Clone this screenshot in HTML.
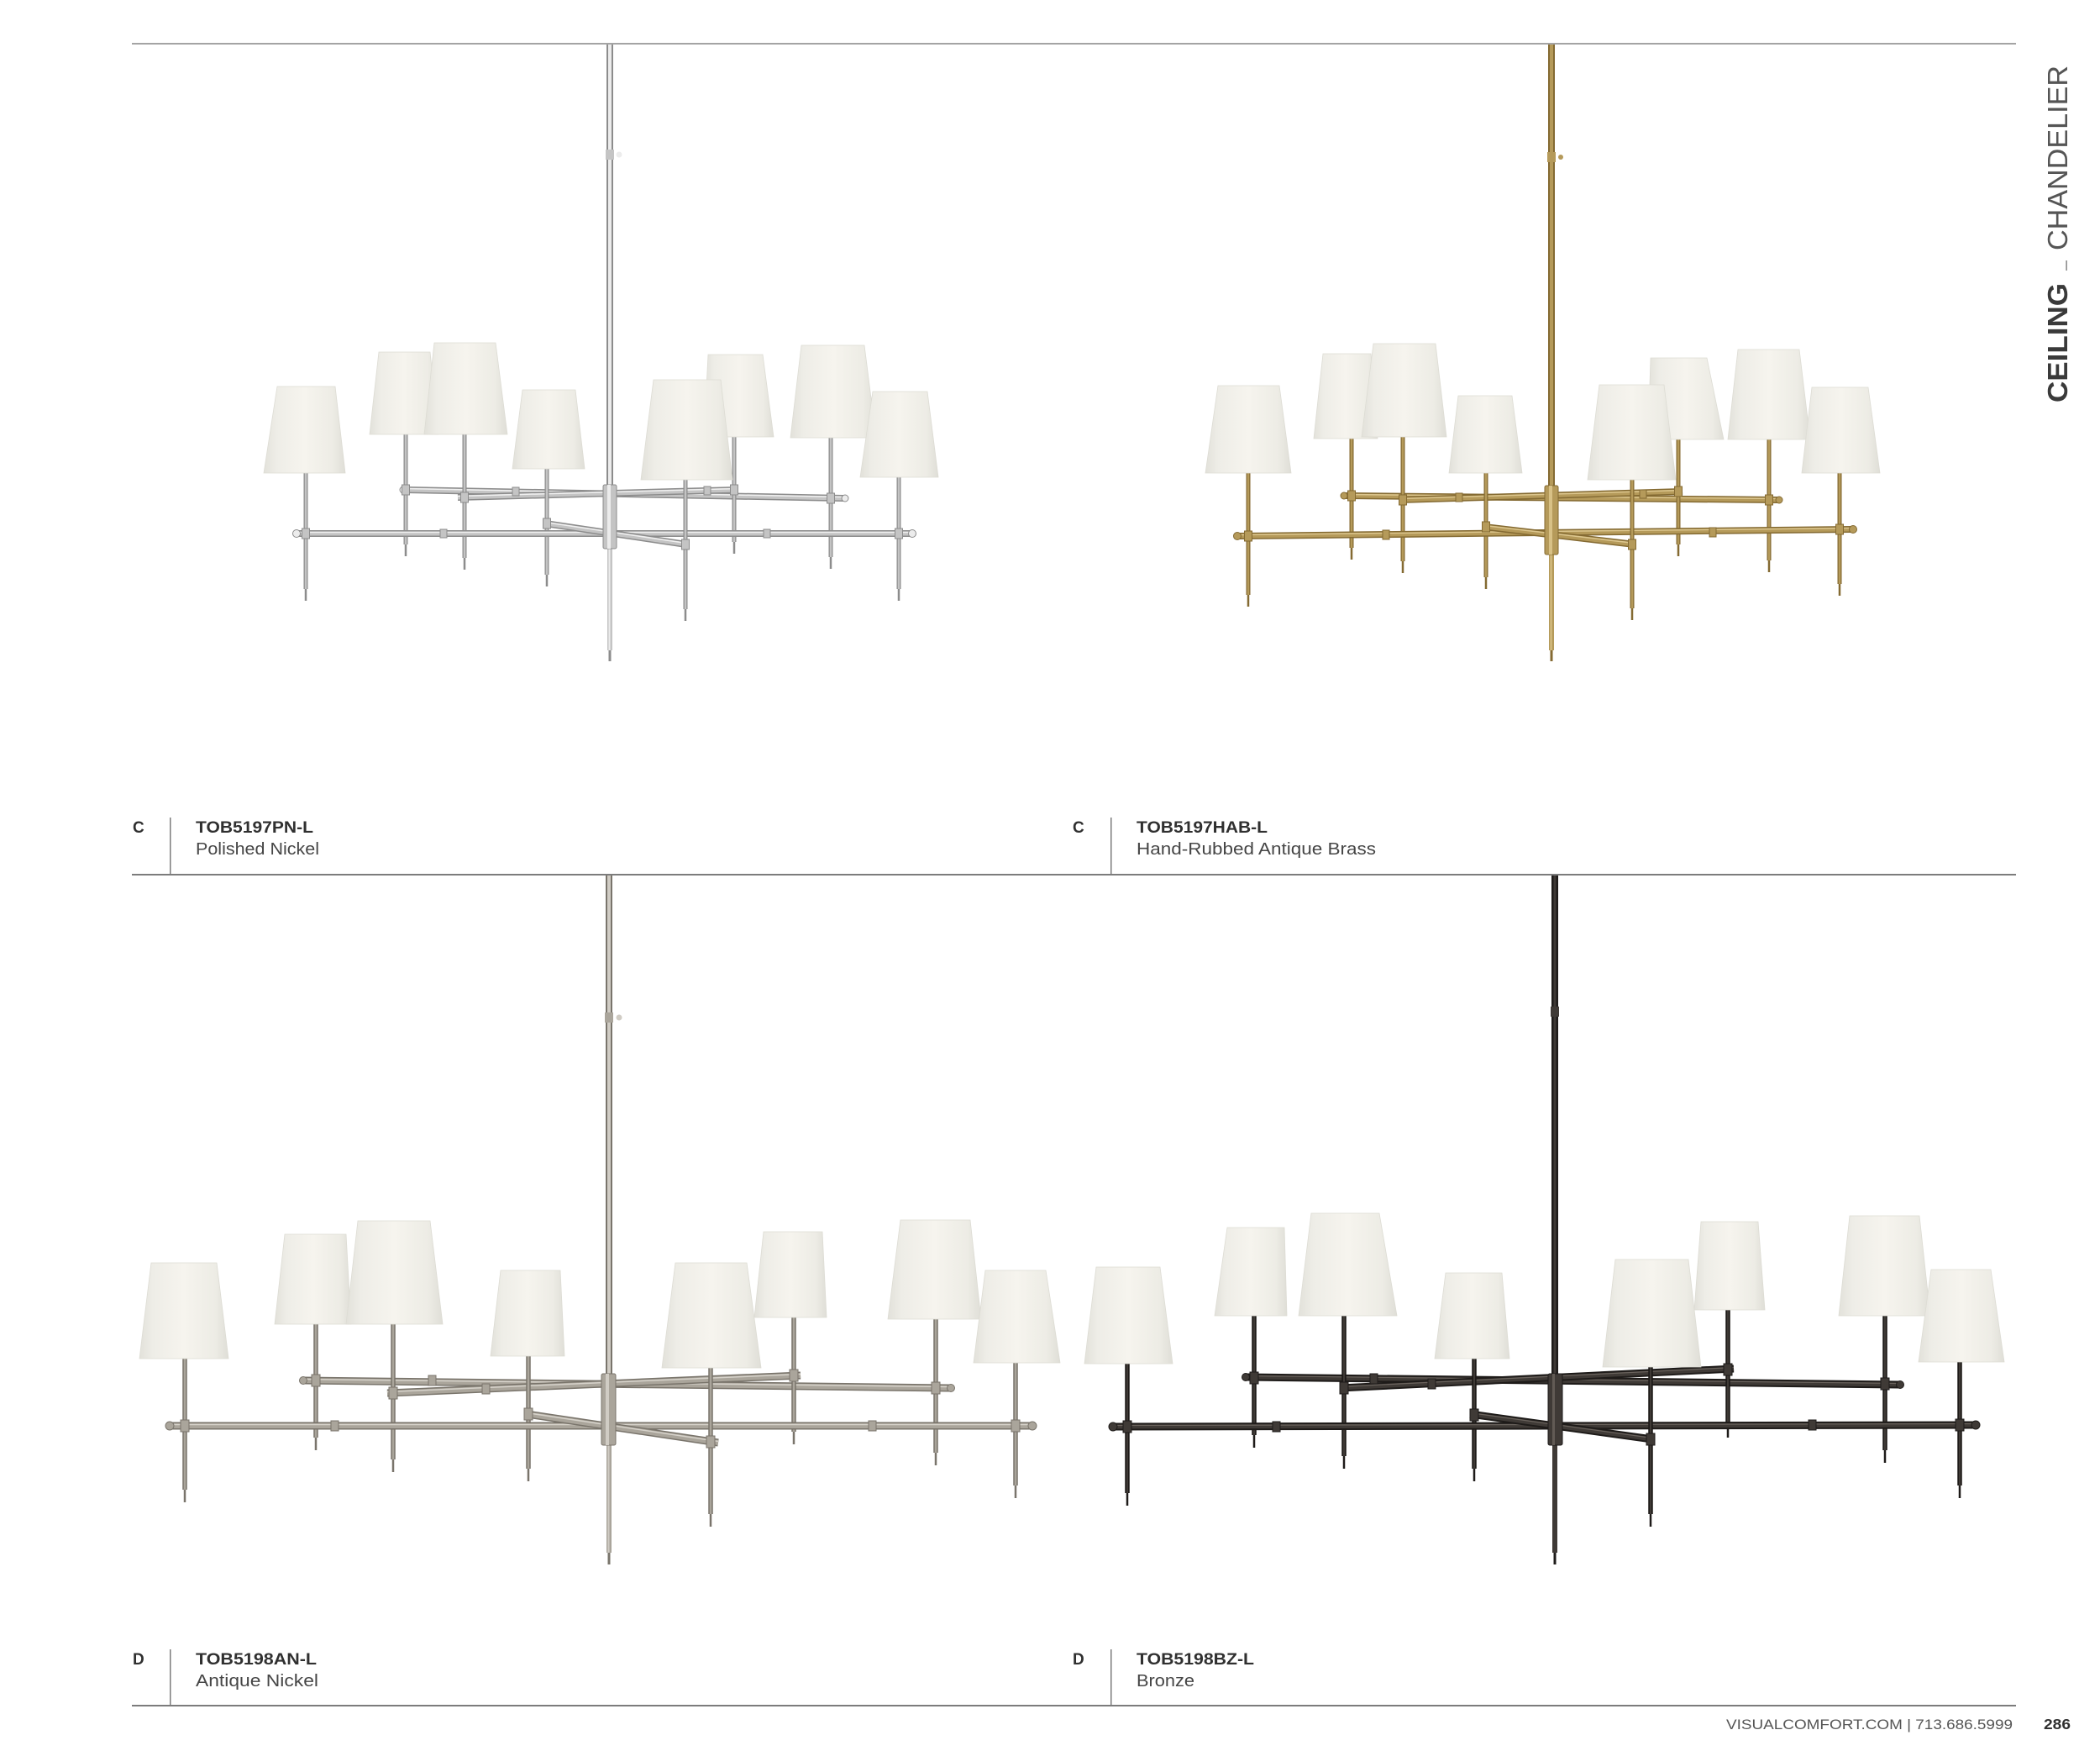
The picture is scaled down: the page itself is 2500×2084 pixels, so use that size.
<!DOCTYPE html>
<html>
<head>
<meta charset="utf-8">
<style>
html,body{margin:0;padding:0;background:#fff;}
body{width:2500px;height:2084px;overflow:hidden;position:relative;}
svg{position:absolute;left:0;top:0;}
text{font-family:"Liberation Sans",Arial,sans-serif;}
.b{font-weight:bold;fill:#303030;}
.r{fill:#464646;}
.pn .d{stroke:#8c8c8c}.pn .m{stroke:#c4c4c4}.pn .l{stroke:#f0f0f0}
.pn .df{fill:#8c8c8c}.pn .mf{fill:#c4c4c4}.pn .lf{fill:#ececec}
.hab .d{stroke:#846a32}.hab .m{stroke:#b59a5a}.hab .l{stroke:#dcc68e}
.hab .df{fill:#846a32}.hab .mf{fill:#b59a5a}.hab .lf{fill:#d8c186}
.an .d{stroke:#79746b}.an .m{stroke:#aaa59b}.an .l{stroke:#d6d2ca}
.an .df{fill:#79746b}.an .mf{fill:#aaa59b}.an .lf{fill:#d0ccc4}
.bz .d{stroke:#1e1b19}.bz .m{stroke:#3f3a36}.bz .l{stroke:#6a635d}
.bz .df{fill:#1e1b19}.bz .mf{fill:#3f3a36}.bz .lf{fill:#625b55}
.c{stroke-width:1}
.sh{fill:url(#shg);stroke:#dddcd4;stroke-width:0.8}
</style>
</head>
<body>
<svg width="2500" height="2084" viewBox="0 0 2500 2084" xmlns="http://www.w3.org/2000/svg">
<defs>
<linearGradient id="shg" x1="0" y1="0" x2="1" y2="0">
<stop offset="0" stop-color="#e2e1da"/>
<stop offset="0.15" stop-color="#eeede7"/>
<stop offset="0.5" stop-color="#f6f4ee"/>
<stop offset="0.85" stop-color="#edece5"/>
<stop offset="1" stop-color="#dfded7"/>
</linearGradient>
</defs>

<!-- rules -->
<rect x="157" y="51" width="2243" height="2" fill="#a4a4a4"/>
<rect x="157" y="1040" width="2243" height="2" fill="#7c7c7c"/>
<rect x="157" y="2029" width="2243" height="2" fill="#7c7c7c"/>
<rect x="202" y="973" width="1.5" height="68" fill="#7c7c7c"/>
<rect x="1322" y="973" width="1.5" height="68" fill="#7c7c7c"/>
<rect x="202" y="1963" width="1.5" height="67" fill="#7c7c7c"/>
<rect x="1322" y="1963" width="1.5" height="67" fill="#7c7c7c"/>

<!-- labels row 1 -->
<text x="158" y="991" class="b" font-size="19">C</text>
<text x="233" y="991" class="b" font-size="19.5" textLength="140" lengthAdjust="spacingAndGlyphs">TOB5197PN-L</text>
<text x="233" y="1017" class="r" font-size="20" textLength="147" lengthAdjust="spacingAndGlyphs">Polished Nickel</text>
<text x="1277" y="991" class="b" font-size="19">C</text>
<text x="1353" y="991" class="b" font-size="19.5" textLength="156" lengthAdjust="spacingAndGlyphs">TOB5197HAB-L</text>
<text x="1353" y="1017" class="r" font-size="20" textLength="285" lengthAdjust="spacingAndGlyphs">Hand-Rubbed Antique Brass</text>
<!-- labels row 2 -->
<text x="158" y="1981" class="b" font-size="19">D</text>
<text x="233" y="1981" class="b" font-size="19.5" textLength="144" lengthAdjust="spacingAndGlyphs">TOB5198AN-L</text>
<text x="233" y="2007" class="r" font-size="20" textLength="146" lengthAdjust="spacingAndGlyphs">Antique Nickel</text>
<text x="1277" y="1981" class="b" font-size="19">D</text>
<text x="1353" y="1981" class="b" font-size="19.5" textLength="140" lengthAdjust="spacingAndGlyphs">TOB5198BZ-L</text>
<text x="1353" y="2007" class="r" font-size="20" textLength="69" lengthAdjust="spacingAndGlyphs">Bronze</text>

<!-- footer -->
<text x="2055" y="2058" font-size="17" fill="#555" textLength="341" lengthAdjust="spacingAndGlyphs">VISUALCOMFORT.COM  |  713.686.5999</text>
<text x="2433" y="2058" font-size="17.5" class="b" textLength="32" lengthAdjust="spacingAndGlyphs">286</text>

<!-- side tab -->
<text transform="translate(2461,479) rotate(-90)" font-size="33" font-weight="bold" fill="#3a3a3a" textLength="142" lengthAdjust="spacingAndGlyphs">CEILING</text>
<rect x="2459.5" y="310" width="1.2" height="12" fill="#666"/>
<text transform="translate(2461,298) rotate(-90)" font-size="33" fill="#555" textLength="220" lengthAdjust="spacingAndGlyphs">CHANDELIER</text>

<!-- ================= PN ================= -->
<g class="pn">
<rect x="722" y="53" width="8" height="525" class="df"/>
<rect x="724" y="53" width="4" height="525" class="lf"/>
<circle cx="737" cy="184" r="3.5" class="lf"/>
<rect x="721" y="178" width="10" height="12" class="mf"/>
<rect x="723" y="653" width="6" height="121" class="mf"/>
<rect x="724.5" y="653" width="2" height="121" class="lf"/>
<rect x="724.5" y="774" width="3" height="13" class="df"/>
<!-- bars upper -->
<line x1="482" y1="583" x2="1004" y2="593" class="d" stroke-width="8"/>
<line x1="482" y1="583" x2="1004" y2="593" class="m" stroke-width="5"/>
<line x1="482" y1="581.5" x2="1004" y2="591.5" class="l" stroke-width="1.5"/>
<line x1="545" y1="592" x2="878" y2="583" class="d" stroke-width="8"/>
<line x1="545" y1="592" x2="878" y2="583" class="m" stroke-width="5"/>
<line x1="545" y1="590.5" x2="878" y2="581.5" class="l" stroke-width="1.5"/>
<!-- stems -->
<line x1="364" y1="563" x2="364" y2="701" class="d" stroke-width="5"/><line x1="364" y1="563" x2="364" y2="701" class="m" stroke-width="2.5"/><line x1="364" y1="701" x2="364" y2="715" class="d" stroke-width="2.5"/>
<line x1="483" y1="517" x2="483" y2="648" class="d" stroke-width="5"/><line x1="483" y1="517" x2="483" y2="648" class="m" stroke-width="2.5"/><line x1="483" y1="648" x2="483" y2="662" class="d" stroke-width="2.5"/>
<line x1="553" y1="517" x2="553" y2="664" class="d" stroke-width="5"/><line x1="553" y1="517" x2="553" y2="664" class="m" stroke-width="2.5"/><line x1="553" y1="664" x2="553" y2="678" class="d" stroke-width="2.5"/>
<line x1="651" y1="558" x2="651" y2="684" class="d" stroke-width="5"/><line x1="651" y1="558" x2="651" y2="684" class="m" stroke-width="2.5"/><line x1="651" y1="684" x2="651" y2="698" class="d" stroke-width="2.5"/>
<line x1="874" y1="520" x2="874" y2="645" class="d" stroke-width="5"/><line x1="874" y1="520" x2="874" y2="645" class="m" stroke-width="2.5"/><line x1="874" y1="645" x2="874" y2="659" class="d" stroke-width="2.5"/>
<line x1="989" y1="521" x2="989" y2="663" class="d" stroke-width="5"/><line x1="989" y1="521" x2="989" y2="663" class="m" stroke-width="2.5"/><line x1="989" y1="663" x2="989" y2="677" class="d" stroke-width="2.5"/>
<line x1="1070" y1="568" x2="1070" y2="701" class="d" stroke-width="5"/><line x1="1070" y1="568" x2="1070" y2="701" class="m" stroke-width="2.5"/><line x1="1070" y1="701" x2="1070" y2="715" class="d" stroke-width="2.5"/>
<!-- bars lower -->
<line x1="355" y1="635" x2="1084" y2="635" class="d" stroke-width="8"/>
<line x1="355" y1="635" x2="1084" y2="635" class="m" stroke-width="5"/>
<line x1="355" y1="633.5" x2="1084" y2="633.5" class="l" stroke-width="1.5"/>
<line x1="649" y1="623" x2="817" y2="648" class="d" stroke-width="8"/>
<line x1="649" y1="623" x2="817" y2="648" class="m" stroke-width="5"/>
<line x1="649" y1="621.5" x2="817" y2="646.5" class="l" stroke-width="1.5"/>
<line x1="816" y1="571" x2="816" y2="725" class="d" stroke-width="5"/><line x1="816" y1="571" x2="816" y2="725" class="m" stroke-width="2.5"/><line x1="816" y1="725" x2="816" y2="739" class="d" stroke-width="2.5"/>
<!-- caps/collars -->
<circle cx="353" cy="635" r="4.5" class="lf d c"/><circle cx="1086" cy="635" r="4.5" class="lf d c"/>
<circle cx="480" cy="583" r="4" class="lf d c"/><circle cx="1006" cy="593" r="4" class="lf d c"/>
<rect x="359.5" y="629" width="9" height="12" class="mf d c"/>
<rect x="478.5" y="577" width="9" height="12" class="mf d c"/>
<rect x="548.5" y="586" width="9" height="12" class="mf d c"/>
<rect x="646.5" y="617" width="9" height="12" class="mf d c"/>
<rect x="811.5" y="642" width="9" height="12" class="mf d c"/>
<rect x="869.5" y="577" width="9" height="12" class="mf d c"/>
<rect x="984.5" y="587" width="9" height="12" class="mf d c"/>
<rect x="1065.5" y="629" width="9" height="12" class="mf d c"/>
<rect x="524" y="630" width="8" height="10" class="mf d c"/><rect x="909" y="630" width="8" height="10" class="mf d c"/>
<rect x="610" y="580" width="8" height="10" class="mf d c"/><rect x="838" y="579" width="8" height="10" class="mf d c"/>
<rect x="718" y="577" width="16" height="76" rx="2" class="mf d c"/>
<rect x="723" y="577" width="4" height="76" class="lf"/>
<!-- shades -->
<polygon class="sh" points="440,517 451,419 512,419 522,517"/>
<polygon class="sh" points="838,520 843,422 908,422 921,520"/>
<polygon class="sh" points="505,517 517,408 590,408 604,517"/>
<polygon class="sh" points="941,521 954,411 1029,411 1043,521"/>
<polygon class="sh" points="610,558 622,464 685,464 696,558"/>
<polygon class="sh" points="314,563 330,460 399,460 411,563"/>
<polygon class="sh" points="763,571 778,452 858,452 872,571"/>
<polygon class="sh" points="1024,568 1039,466 1104,466 1117,568"/>
</g>

<!-- ================= HAB ================= -->
<g class="hab">
<rect x="1843" y="53" width="8" height="525" class="df"/>
<rect x="1845" y="53" width="4" height="525" class="mf"/>
<circle cx="1858" cy="187" r="3" class="mf"/>
<rect x="1842" y="181" width="10" height="12" class="mf"/>
<rect x="1844" y="660" width="6" height="114" class="mf"/>
<rect x="1845.5" y="660" width="2" height="114" class="lf"/>
<rect x="1845.5" y="774" width="3" height="13" class="df"/>
<line x1="1602" y1="590" x2="2116" y2="595" class="d" stroke-width="8"/>
<line x1="1602" y1="590" x2="2116" y2="595" class="m" stroke-width="5"/>
<line x1="1602" y1="588.5" x2="2116" y2="593.5" class="l" stroke-width="1.5"/>
<line x1="1665" y1="595" x2="2003" y2="585" class="d" stroke-width="8"/>
<line x1="1665" y1="595" x2="2003" y2="585" class="m" stroke-width="5"/>
<line x1="1665" y1="593.5" x2="2003" y2="583.5" class="l" stroke-width="1.5"/>
<line x1="1486" y1="563" x2="1486" y2="708" class="d" stroke-width="5"/><line x1="1486" y1="563" x2="1486" y2="708" class="m" stroke-width="2.5"/><line x1="1486" y1="708" x2="1486" y2="722" class="d" stroke-width="2.5"/>
<line x1="1609" y1="522" x2="1609" y2="652" class="d" stroke-width="5"/><line x1="1609" y1="522" x2="1609" y2="652" class="m" stroke-width="2.5"/><line x1="1609" y1="652" x2="1609" y2="666" class="d" stroke-width="2.5"/>
<line x1="1670" y1="520" x2="1670" y2="668" class="d" stroke-width="5"/><line x1="1670" y1="520" x2="1670" y2="668" class="m" stroke-width="2.5"/><line x1="1670" y1="668" x2="1670" y2="682" class="d" stroke-width="2.5"/>
<line x1="1769" y1="563" x2="1769" y2="687" class="d" stroke-width="5"/><line x1="1769" y1="563" x2="1769" y2="687" class="m" stroke-width="2.5"/><line x1="1769" y1="687" x2="1769" y2="701" class="d" stroke-width="2.5"/>
<line x1="1998" y1="523" x2="1998" y2="648" class="d" stroke-width="5"/><line x1="1998" y1="523" x2="1998" y2="648" class="m" stroke-width="2.5"/><line x1="1998" y1="648" x2="1998" y2="662" class="d" stroke-width="2.5"/>
<line x1="2106" y1="523" x2="2106" y2="667" class="d" stroke-width="5"/><line x1="2106" y1="523" x2="2106" y2="667" class="m" stroke-width="2.5"/><line x1="2106" y1="667" x2="2106" y2="681" class="d" stroke-width="2.5"/>
<line x1="2190" y1="563" x2="2190" y2="695" class="d" stroke-width="5"/><line x1="2190" y1="563" x2="2190" y2="695" class="m" stroke-width="2.5"/><line x1="2190" y1="695" x2="2190" y2="709" class="d" stroke-width="2.5"/>
<line x1="1475" y1="638" x2="2204" y2="630" class="d" stroke-width="8"/>
<line x1="1475" y1="638" x2="2204" y2="630" class="m" stroke-width="5"/>
<line x1="1475" y1="636.5" x2="2204" y2="628.5" class="l" stroke-width="1.5"/>
<line x1="1767" y1="627" x2="1946" y2="648" class="d" stroke-width="8"/>
<line x1="1767" y1="627" x2="1946" y2="648" class="m" stroke-width="5"/>
<line x1="1767" y1="625.5" x2="1946" y2="646.5" class="l" stroke-width="1.5"/>
<line x1="1943" y1="571" x2="1943" y2="724" class="d" stroke-width="5"/><line x1="1943" y1="571" x2="1943" y2="724" class="m" stroke-width="2.5"/><line x1="1943" y1="724" x2="1943" y2="738" class="d" stroke-width="2.5"/>
<circle cx="1473" cy="638" r="4.5" class="mf d c"/><circle cx="2206" cy="630" r="4.5" class="mf d c"/>
<circle cx="1600" cy="590" r="4" class="mf d c"/><circle cx="2118" cy="595" r="4" class="mf d c"/>
<rect x="1481.5" y="632" width="9" height="12" class="mf d c"/>
<rect x="1604.5" y="584" width="9" height="12" class="mf d c"/>
<rect x="1665.5" y="589" width="9" height="12" class="mf d c"/>
<rect x="1764.5" y="621" width="9" height="12" class="mf d c"/>
<rect x="1938.5" y="642" width="9" height="12" class="mf d c"/>
<rect x="1993.5" y="579" width="9" height="12" class="mf d c"/>
<rect x="2101.5" y="589" width="9" height="12" class="mf d c"/>
<rect x="2185.5" y="624" width="9" height="12" class="mf d c"/>
<rect x="1646" y="631" width="8" height="11" class="mf d c"/><rect x="2035" y="628" width="8" height="11" class="mf d c"/>
<rect x="1733" y="587" width="8" height="10" class="mf d c"/><rect x="1952" y="583" width="8" height="10" class="mf d c"/>
<rect x="1839" y="578" width="16" height="82" rx="2" class="mf d c"/>
<rect x="1844" y="578" width="4" height="82" class="lf"/>
<polygon class="sh" points="1564,522 1575,421 1632,421 1640,522"/>
<polygon class="sh" points="1962,523 1965,426 2032,426 2052,523"/>
<polygon class="sh" points="1621,520 1635,409 1709,409 1722,520"/>
<polygon class="sh" points="2057,523 2069,416 2142,416 2155,523"/>
<polygon class="sh" points="1725,563 1736,471 1800,471 1812,563"/>
<polygon class="sh" points="1435,563 1450,459 1523,459 1537,563"/>
<polygon class="sh" points="1890,571 1904,458 1981,458 1995,571"/>
<polygon class="sh" points="2145,563 2157,461 2224,461 2238,563"/>
</g>

<!-- ================= AN ================= -->
<g class="an">
<rect x="721" y="1042" width="8" height="594" class="df"/>
<rect x="723" y="1042" width="4" height="594" class="lf"/>
<circle cx="737" cy="1211" r="3.5" class="lf"/>
<rect x="720" y="1205" width="10" height="12" class="mf"/>
<rect x="722" y="1720" width="6" height="128" class="mf"/>
<rect x="723.5" y="1720" width="2" height="128" class="lf"/>
<rect x="723.5" y="1848" width="3" height="14" class="df"/>
<line x1="363" y1="1643" x2="1130" y2="1652" class="d" stroke-width="9"/>
<line x1="363" y1="1643" x2="1130" y2="1652" class="m" stroke-width="6"/>
<line x1="363" y1="1641.5" x2="1130" y2="1650.5" class="l" stroke-width="1.5"/>
<line x1="461" y1="1658" x2="953" y2="1637" class="d" stroke-width="9"/>
<line x1="461" y1="1658" x2="953" y2="1637" class="m" stroke-width="6"/>
<line x1="461" y1="1656.5" x2="953" y2="1635.5" class="l" stroke-width="1.5"/>
<line x1="220" y1="1617" x2="220" y2="1773" class="d" stroke-width="5.5"/><line x1="220" y1="1617" x2="220" y2="1773" class="m" stroke-width="2.5"/><line x1="220" y1="1773" x2="220" y2="1788" class="d" stroke-width="2.5"/>
<line x1="376" y1="1576" x2="376" y2="1711" class="d" stroke-width="5.5"/><line x1="376" y1="1576" x2="376" y2="1711" class="m" stroke-width="2.5"/><line x1="376" y1="1711" x2="376" y2="1726" class="d" stroke-width="2.5"/>
<line x1="468" y1="1576" x2="468" y2="1737" class="d" stroke-width="5.5"/><line x1="468" y1="1576" x2="468" y2="1737" class="m" stroke-width="2.5"/><line x1="468" y1="1737" x2="468" y2="1752" class="d" stroke-width="2.5"/>
<line x1="629" y1="1614" x2="629" y2="1748" class="d" stroke-width="5.5"/><line x1="629" y1="1614" x2="629" y2="1748" class="m" stroke-width="2.5"/><line x1="629" y1="1748" x2="629" y2="1763" class="d" stroke-width="2.5"/>
<line x1="945" y1="1568" x2="945" y2="1704" class="d" stroke-width="5.5"/><line x1="945" y1="1568" x2="945" y2="1704" class="m" stroke-width="2.5"/><line x1="945" y1="1704" x2="945" y2="1719" class="d" stroke-width="2.5"/>
<line x1="1114" y1="1570" x2="1114" y2="1729" class="d" stroke-width="5.5"/><line x1="1114" y1="1570" x2="1114" y2="1729" class="m" stroke-width="2.5"/><line x1="1114" y1="1729" x2="1114" y2="1744" class="d" stroke-width="2.5"/>
<line x1="1209" y1="1622" x2="1209" y2="1768" class="d" stroke-width="5.5"/><line x1="1209" y1="1622" x2="1209" y2="1768" class="m" stroke-width="2.5"/><line x1="1209" y1="1768" x2="1209" y2="1783" class="d" stroke-width="2.5"/>
<line x1="204" y1="1697" x2="1227" y2="1697" class="d" stroke-width="9"/>
<line x1="204" y1="1697" x2="1227" y2="1697" class="m" stroke-width="6"/>
<line x1="204" y1="1695.5" x2="1227" y2="1695.5" class="l" stroke-width="1.5"/>
<line x1="627" y1="1683" x2="855" y2="1717" class="d" stroke-width="9"/>
<line x1="627" y1="1683" x2="855" y2="1717" class="m" stroke-width="6"/>
<line x1="627" y1="1681.5" x2="855" y2="1715.5" class="l" stroke-width="1.5"/>
<line x1="846" y1="1628" x2="846" y2="1802" class="d" stroke-width="5.5"/><line x1="846" y1="1628" x2="846" y2="1802" class="m" stroke-width="2.5"/><line x1="846" y1="1802" x2="846" y2="1817" class="d" stroke-width="2.5"/>
<circle cx="202" cy="1697" r="5" class="mf d c"/><circle cx="1229" cy="1697" r="5" class="mf d c"/>
<circle cx="361" cy="1643" r="4.5" class="mf d c"/><circle cx="1132" cy="1652" r="4.5" class="mf d c"/>
<rect x="215" y="1690" width="10" height="14" class="mf d c"/>
<rect x="371" y="1636" width="10" height="14" class="mf d c"/>
<rect x="463" y="1651" width="10" height="14" class="mf d c"/>
<rect x="624" y="1676" width="10" height="14" class="mf d c"/>
<rect x="841" y="1709" width="10" height="14" class="mf d c"/>
<rect x="940" y="1630" width="10" height="14" class="mf d c"/>
<rect x="1109" y="1645" width="10" height="14" class="mf d c"/>
<rect x="1204" y="1690" width="10" height="14" class="mf d c"/>
<rect x="394" y="1691" width="9" height="12" class="mf d c"/><rect x="1034" y="1691" width="9" height="12" class="mf d c"/>
<rect x="510" y="1637" width="9" height="12" class="mf d c"/><rect x="574" y="1647" width="9" height="12" class="mf d c"/>
<rect x="716" y="1635" width="17" height="85" rx="2" class="mf d c"/>
<rect x="721" y="1635" width="4" height="85" class="lf"/>
<polygon class="sh" points="327,1576 339,1469 412,1469 418,1576"/>
<polygon class="sh" points="898,1568 909,1466 979,1466 984,1568"/>
<polygon class="sh" points="412,1576 426,1453 512,1453 527,1576"/>
<polygon class="sh" points="1057,1570 1072,1452 1155,1452 1168,1570"/>
<polygon class="sh" points="584,1614 596,1512 667,1512 672,1614"/>
<polygon class="sh" points="166,1617 180,1503 258,1503 272,1617"/>
<polygon class="sh" points="788,1628 804,1503 889,1503 906,1628"/>
<polygon class="sh" points="1159,1622 1173,1512 1245,1512 1262,1622"/>
</g>

<!-- ================= BZ ================= -->
<g class="bz">
<rect x="1847" y="1042" width="8" height="594" class="df"/>
<rect x="1849.5" y="1042" width="3" height="594" class="mf"/>
<rect x="1846" y="1198" width="10" height="12" class="mf"/>
<rect x="1848" y="1720" width="6" height="128" class="mf"/>
<rect x="1849.5" y="1848" width="3" height="14" class="df"/>
<line x1="1485" y1="1639" x2="2260" y2="1648" class="d" stroke-width="9"/>
<line x1="1485" y1="1639" x2="2260" y2="1648" class="m" stroke-width="5"/>
<line x1="1485" y1="1637.5" x2="2260" y2="1646.5" class="l" stroke-width="1.2"/>
<line x1="1595" y1="1652" x2="2064" y2="1629" class="d" stroke-width="9"/>
<line x1="1595" y1="1652" x2="2064" y2="1629" class="m" stroke-width="5"/>
<line x1="1595" y1="1650.5" x2="2064" y2="1627.5" class="l" stroke-width="1.2"/>
<line x1="1342" y1="1623" x2="1342" y2="1777" class="d" stroke-width="5.5"/><line x1="1342" y1="1623" x2="1342" y2="1777" class="m" stroke-width="2"/><line x1="1342" y1="1777" x2="1342" y2="1792" class="d" stroke-width="2.5"/>
<line x1="1493" y1="1566" x2="1493" y2="1708" class="d" stroke-width="5.5"/><line x1="1493" y1="1566" x2="1493" y2="1708" class="m" stroke-width="2"/><line x1="1493" y1="1708" x2="1493" y2="1723" class="d" stroke-width="2.5"/>
<line x1="1600" y1="1566" x2="1600" y2="1733" class="d" stroke-width="5.5"/><line x1="1600" y1="1566" x2="1600" y2="1733" class="m" stroke-width="2"/><line x1="1600" y1="1733" x2="1600" y2="1748" class="d" stroke-width="2.5"/>
<line x1="1755" y1="1617" x2="1755" y2="1748" class="d" stroke-width="5.5"/><line x1="1755" y1="1617" x2="1755" y2="1748" class="m" stroke-width="2"/><line x1="1755" y1="1748" x2="1755" y2="1763" class="d" stroke-width="2.5"/>
<line x1="2057" y1="1559" x2="2057" y2="1696" class="d" stroke-width="5.5"/><line x1="2057" y1="1559" x2="2057" y2="1696" class="m" stroke-width="2"/><line x1="2057" y1="1696" x2="2057" y2="1711" class="d" stroke-width="2.5"/>
<line x1="2244" y1="1566" x2="2244" y2="1726" class="d" stroke-width="5.5"/><line x1="2244" y1="1566" x2="2244" y2="1726" class="m" stroke-width="2"/><line x1="2244" y1="1726" x2="2244" y2="1741" class="d" stroke-width="2.5"/>
<line x1="2333" y1="1621" x2="2333" y2="1768" class="d" stroke-width="5.5"/><line x1="2333" y1="1621" x2="2333" y2="1768" class="m" stroke-width="2"/><line x1="2333" y1="1768" x2="2333" y2="1783" class="d" stroke-width="2.5"/>
<line x1="1327" y1="1698" x2="2350" y2="1696" class="d" stroke-width="9"/>
<line x1="1327" y1="1698" x2="2350" y2="1696" class="m" stroke-width="5"/>
<line x1="1327" y1="1696.5" x2="2350" y2="1694.5" class="l" stroke-width="1.2"/>
<line x1="1750" y1="1683" x2="1967" y2="1713" class="d" stroke-width="9"/>
<line x1="1750" y1="1683" x2="1967" y2="1713" class="m" stroke-width="5"/>
<line x1="1750" y1="1681.5" x2="1967" y2="1711.5" class="l" stroke-width="1.2"/>
<line x1="1965" y1="1627" x2="1965" y2="1802" class="d" stroke-width="5.5"/><line x1="1965" y1="1627" x2="1965" y2="1802" class="m" stroke-width="2"/><line x1="1965" y1="1802" x2="1965" y2="1817" class="d" stroke-width="2.5"/>
<circle cx="1325" cy="1698" r="5" class="mf d c"/><circle cx="2352" cy="1696" r="5" class="mf d c"/>
<circle cx="1483" cy="1639" r="4.5" class="mf d c"/><circle cx="2262" cy="1648" r="4.5" class="mf d c"/>
<rect x="1337" y="1691" width="10" height="14" class="mf d c"/>
<rect x="1488" y="1633" width="10" height="14" class="mf d c"/>
<rect x="1595" y="1645" width="10" height="14" class="mf d c"/>
<rect x="1750" y="1677" width="10" height="14" class="mf d c"/>
<rect x="1960" y="1706" width="10" height="14" class="mf d c"/>
<rect x="2052" y="1623" width="10" height="14" class="mf d c"/>
<rect x="2239" y="1640" width="10" height="14" class="mf d c"/>
<rect x="2328" y="1689" width="10" height="14" class="mf d c"/>
<rect x="1515" y="1692" width="9" height="12" class="mf d c"/><rect x="2153" y="1690" width="9" height="12" class="mf d c"/>
<rect x="1631" y="1635" width="9" height="12" class="mf d c"/><rect x="1700" y="1641" width="9" height="12" class="mf d c"/>
<rect x="1843" y="1635" width="17" height="85" rx="2" class="mf d c"/>
<rect x="1848" y="1635" width="3" height="85" class="lf"/>
<polygon class="sh" points="1446,1566 1461,1461 1529,1461 1532,1566"/>
<polygon class="sh" points="2017,1559 2025,1454 2093,1454 2101,1559"/>
<polygon class="sh" points="1546,1566 1561,1444 1642,1444 1663,1566"/>
<polygon class="sh" points="2189,1566 2202,1447 2285,1447 2298,1566"/>
<polygon class="sh" points="1708,1617 1721,1515 1788,1515 1797,1617"/>
<polygon class="sh" points="1291,1623 1305,1508 1381,1508 1396,1623"/>
<polygon class="sh" points="1908,1627 1923,1499 2010,1499 2025,1627"/>
<polygon class="sh" points="2284,1621 2299,1511 2370,1511 2386,1621"/>
</g>
</svg>
</body>
</html>
